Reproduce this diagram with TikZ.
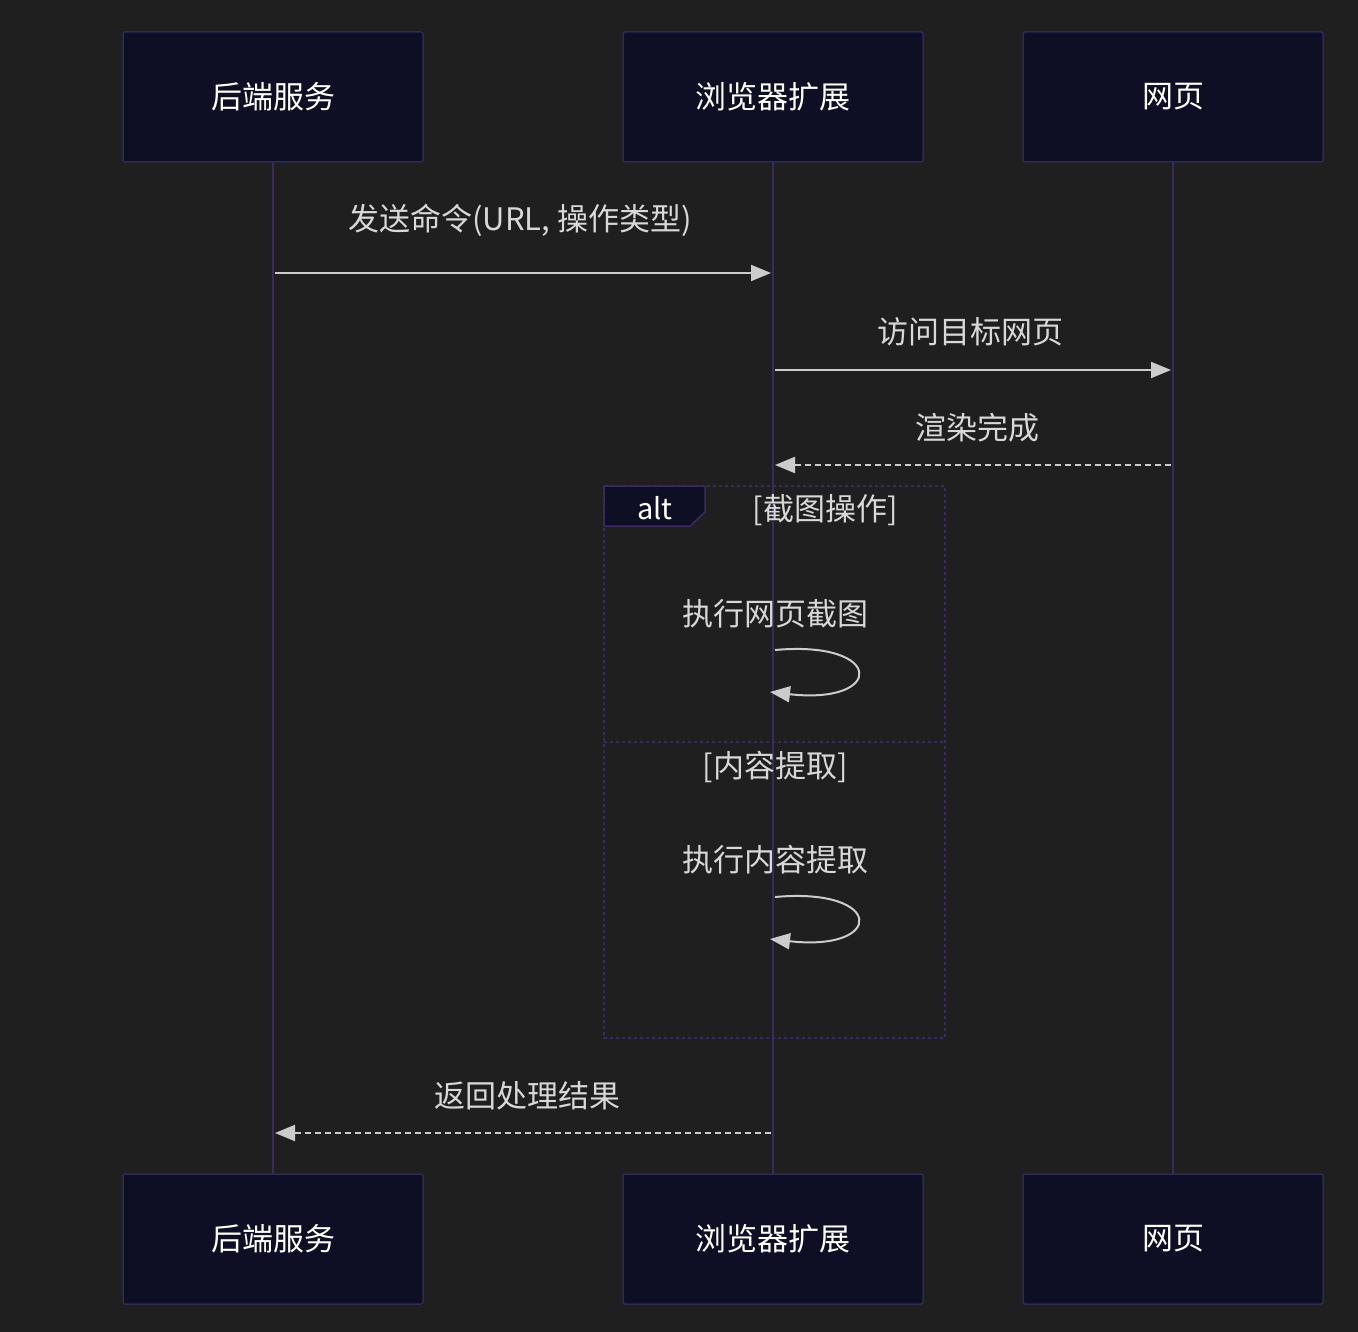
\documentclass[tikz,border=0pt]{standalone}
\usepackage{fontspec}
\setmainfont{Noto Sans CJK SC}
\usetikzlibrary{arrows.meta}
\definecolor{bg}{HTML}{1F1F1F}
\definecolor{boxfill}{HTML}{0E0E24}
\definecolor{boxline}{HTML}{2E2A50}
\definecolor{lifeline}{HTML}{3A2A5E}
\definecolor{msgcol}{HTML}{CCCCCC}
\definecolor{txtcol}{HTML}{D8D8D8}
\tikzset{
  actor/.style={rectangle,draw=boxline,fill=boxfill,line width=1.5pt,rounded corners=2pt,
    minimum width=300pt,minimum height=130pt,text=white,font=\fontsize{31}{36}\selectfont},
  life/.style={draw=lifeline,line width=2.5pt},
  msg/.style={draw=msgcol,line width=2pt,-{Triangle[length=20pt,width=16pt]}},
  reply/.style={msg,dash pattern=on 6pt off 4pt},
  lbl/.style={text=txtcol,font=\fontsize{31}{36}\selectfont},
  frame/.style={draw=lifeline,line width=2pt,dash pattern=on 3pt off 3pt}
}
\begin{document}
\begin{tikzpicture}[x=1pt,y=-1pt]
\fill[bg] (0,0) rectangle (1358,1332);
\useasboundingbox (0,0) rectangle (1358,1332);
% lifelines
\draw[life] (273,162) -- (273,1174);
\draw[life] (773,162) -- (773,1174);
\draw[life] (1173,162) -- (1173,1174);
% participants
\node[actor] (backTop) at (273,97) {后端服务};
\node[actor] (extTop) at (773,97) {浏览器扩展};
\node[actor] (pageTop) at (1173,97) {网页};
\node[actor] (backBot) at (273,1239) {后端服务};
\node[actor] (extBot) at (773,1239) {浏览器扩展};
\node[actor] (pageBot) at (1173,1239) {网页};
% messages
\coordinate (b1) at (275,273); \coordinate (e1) at (771,273);
\draw[msg] (b1) -- (e1);
\node[lbl] (m1) at (520,220) {发送命令(URL, 操作类型)};
\coordinate (e2) at (775,370); \coordinate (p2) at (1171,370);
\draw[msg] (e2) -- (p2);
\node[lbl] (m2) at (970,332) {访问目标网页};
\coordinate (p3) at (1171,465); \coordinate (e3) at (775,465);
\draw[reply] (p3) -- (e3);
\node[lbl] (m3) at (977,428) {渲染完成};
% alt frame
\draw[frame] (604,486) rectangle (945,1038);
\draw[frame] (604,742) -- (945,742);
\filldraw[fill=boxfill,draw=lifeline,line width=1.5pt] (604,486) -- (705,486) -- (705,512) -- (690,526) -- (604,526) -- cycle;
\node[text=white,font=\fontsize{29}{34}\selectfont] (altTag) at (655,508) {alt};
\node[lbl] (c1) at (825,510) {[截图操作]};
\node[lbl] (c2) at (775,767) {[内容提取]};
% self calls
\node[lbl] (s1) at (775,614) {执行网页截图};
\coordinate (s1a) at (775,650); \coordinate (s1b) at (770,692);
\draw[msg] (s1a) .. controls (885,640) and (885,705) .. (s1b);
\node[lbl] (s2) at (775,860) {执行内容提取};
\coordinate (s2a) at (775,897); \coordinate (s2b) at (770,939);
\draw[msg] (s2a) .. controls (885,887) and (885,952) .. (s2b);
% return
\coordinate (e4) at (771,1133); \coordinate (b4) at (275,1133);
\draw[reply] (e4) -- (b4);
\node[lbl] (m4) at (527,1096) {返回处理结果};
\end{tikzpicture}
\end{document}
